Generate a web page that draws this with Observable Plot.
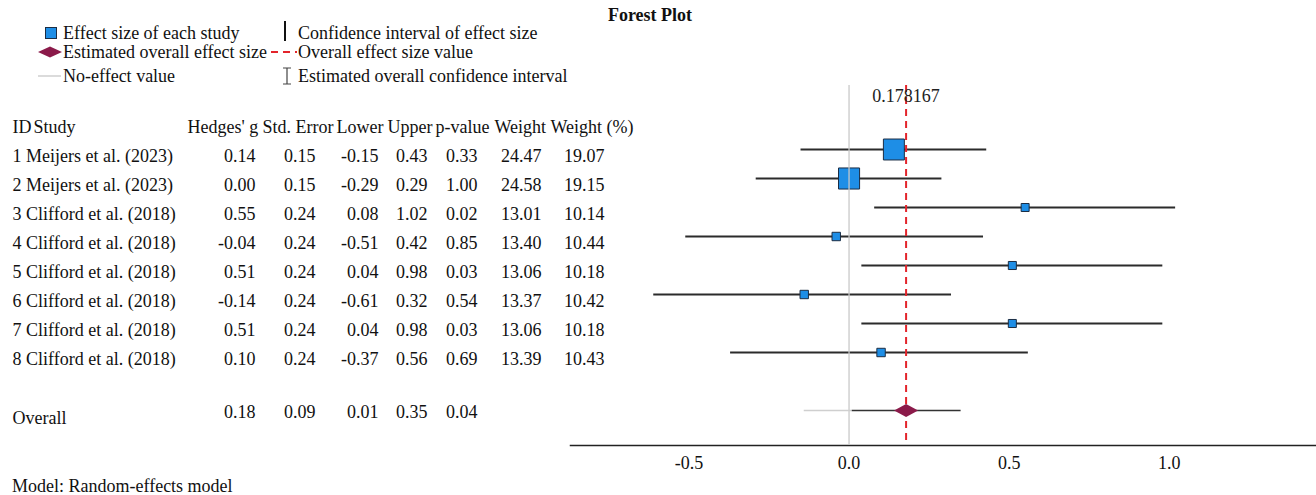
<!DOCTYPE html>
<html>
<head>
<meta charset="utf-8">
<script src="https://cdn.jsdelivr.net/npm/d3@7"></script>
<script src="https://cdn.jsdelivr.net/npm/@observablehq/plot@0.6"></script>
<style>
  body { margin: 0; background: #fff; }
  #fig { position: relative; width: 1316px; height: 495px; overflow: hidden;
         font-family: "Liberation Serif", "Times New Roman", serif; color: #111; }
  #fig > svg, #fig > .layer { position: absolute; left: 0; top: 0; }
  .title { position: absolute; left: 0; width: 1300px; top: 5px; text-align: center;
           font-weight: bold; font-size: 18px; }
  .caption { position: absolute; left: 12px; top: 476px; font-size: 18px; }
</style>
</head>
<body>
<div id="fig"></div>
<script>
// ---- Study-level results (random-effects meta-analysis, Hedges' g) ----
const ids = [1, 2, 3, 4, 5, 6, 7, 8];
const studies = [
  "Meijers et al. (2023)", "Meijers et al. (2023)",
  "Clifford et al. (2018)", "Clifford et al. (2018)",
  "Clifford et al. (2018)", "Clifford et al. (2018)",
  "Clifford et al. (2018)", "Clifford et al. (2018)"
];
const hedgesG  = [0.14, 0.00, 0.55, -0.04, 0.51, -0.14, 0.51, 0.10];
const stdError = [0.15, 0.15, 0.24, 0.24, 0.24, 0.24, 0.24, 0.24];
const lowerCI  = [-0.15, -0.29, 0.08, -0.51, 0.04, -0.61, 0.04, -0.37];
const upperCI  = [0.43, 0.29, 1.02, 0.42, 0.98, 0.32, 0.98, 0.56];
const pValues  = [0.33, 1.00, 0.02, 0.85, 0.03, 0.54, 0.03, 0.69];
const weights  = [24.47, 24.58, 13.01, 13.40, 13.06, 13.37, 13.06, 13.39];
const weightPct = [19.07, 19.15, 10.14, 10.44, 10.18, 10.42, 10.18, 10.43];

// ---- Pooled estimate ----
const overallEstimate = 0.178167;
const overallStdError = 0.09;
const overallLower = 0.01;
const overallUpper = 0.35;
const overallP = 0.04;
const overallLightSpan = [-0.14, 0.01];

const xTicks = [-0.5, 0.0, 0.5, 1.0];

// ---- Derived tables ----
const rows = ids.map((id, i) => ({
  key: String(id), id, study: studies[i], g: hedgesG[i], se: stdError[i],
  lower: lowerCI[i], upper: upperCI[i], p: pValues[i], w: weights[i], wp: weightPct[i]
}));
const overall = {
  key: "Overall", g: overallEstimate, se: overallStdError,
  lower: overallLower, upper: overallUpper, p: overallP
};
const rowOrder = ["header", ...rows.map(d => d.key), "gap", "Overall"];

// ---- Layout of the left-hand table (pixel columns) ----
const marginLeft = 570;
const labelX = 12;
const columns = [
  {header: "Hedges' g",  headerX: 187, valueX: 255, get: d => d.g},
  {header: "Std. Error", headerX: 262, valueX: 315, get: d => d.se},
  {header: "Lower",      headerX: 336, valueX: 378, get: d => d.lower},
  {header: "Upper",      headerX: 387, valueX: 427, get: d => d.upper},
  {header: "p-value",    headerX: 435, valueX: 477, get: d => d.p},
  {header: "Weight",     headerX: 494, valueX: 541, get: d => d.w},
  {header: "Weight (%)", headerX: 550, valueX: 604, get: d => d.wp}
];
const fmt2 = v => v.toFixed(2);
const fmt1 = v => v.toFixed(1);

// Flattened diamond for the pooled effect
const flatDiamond = {
  draw(context, size) {
    const w = Math.sqrt(size / Math.PI);
    const h = w * 0.55;
    context.moveTo(-w, 0);
    context.lineTo(0, -h);
    context.lineTo(w, 0);
    context.lineTo(0, h);
    context.closePath();
  }
};

const textStyle = {fontSize: 18, fill: "#111"};
const at = x => ({frameAnchor: "left", dx: x - marginLeft});

const tableMarks = [];
// header row
tableMarks.push(Plot.text([{key: "header", t: "ID"}],
  {y: "key", text: "t", ...at(labelX), dy: 7, textAnchor: "start", ...textStyle}));
tableMarks.push(Plot.text([{key: "header", t: "Study"}],
  {y: "key", text: "t", ...at(33), dy: 7, textAnchor: "start", ...textStyle}));
for (const c of columns) {
  tableMarks.push(Plot.text([{key: "header", t: c.header}],
    {y: "key", text: "t", ...at(c.headerX), dy: 7, textAnchor: "start", ...textStyle}));
  tableMarks.push(Plot.text(rows,
    {y: "key", text: d => fmt2(c.get(d)), ...at(c.valueX), dy: 7, textAnchor: "end", ...textStyle}));
}
// study labels
tableMarks.push(Plot.text(rows,
  {y: "key", text: d => `${d.id} ${d.study}`, ...at(labelX), dy: 7, textAnchor: "start", ...textStyle}));
// overall row
tableMarks.push(Plot.text([overall],
  {y: "key", text: () => "Overall", ...at(labelX), dy: 8, textAnchor: "start", ...textStyle}));
for (const c of columns.slice(0, 5)) {
  tableMarks.push(Plot.text([overall],
    {y: "key", text: d => fmt2(c.get(d)), ...at(c.valueX), dy: 2, textAnchor: "end", ...textStyle}));
}

const chart = Plot.plot({
  width: 1316,
  height: 495,
  marginLeft,
  marginRight: 0,
  marginTop: 85,
  marginBottom: 50,
  style: {fontFamily: "'Liberation Serif', 'Times New Roman', serif", fontSize: "18px", color: "#111", background: "transparent", overflow: "visible"},
  x: {domain: [-0.87, 1.46]},
  y: {type: "point", domain: rowOrder, range: [118, 412], padding: 0, axis: null},
  r: {type: "linear", domain: [13.0, 24.6], range: [4.5, 11.9]},
  marks: [
    // x axis: baseline + labels, no tick marks
    Plot.frame({anchor: "bottom", stroke: "#222", strokeWidth: 1.5}),
    Plot.axisX({ticks: xTicks, tickFormat: fmt1, tickSize: 0, tickPadding: 11, fontSize: 18, label: null}),

    // study confidence intervals and effect-size squares
    Plot.ruleY(rows, {y: "key", x1: "lower", x2: "upper", stroke: "#2b2b2b", strokeWidth: 2}),
    Plot.dot(rows, {x: "g", y: "key", r: "w", symbol: "square", fill: "#1e8ee6", stroke: "#1b2d44", strokeWidth: 1}),

    // no-effect line and pooled-effect line
    Plot.ruleX([0], {stroke: "#c8c8c8", strokeWidth: 1.5, strokeOpacity: 0.85}),
    Plot.ruleX([overallEstimate], {stroke: "#e3242b", strokeWidth: 2, strokeDasharray: "7,5"}),
    Plot.text([overallEstimate], {x: d => d, frameAnchor: "top", lineAnchor: "middle", dy: 11, text: d => String(d), fontSize: 18, fill: "#222"}),

    // pooled confidence interval
    Plot.ruleY([overall], {y: "key", x1: () => overallLightSpan[0], x2: () => overallLightSpan[1], stroke: "#cfcfcf", strokeWidth: 1.5}),
    Plot.ruleX([overallLightSpan[0]], {x: d => d, y: () => "Overall", insetTop: -4, insetBottom: -4, stroke: "#cfcfcf", strokeWidth: 1.5}),
    Plot.ruleY([overall], {y: "key", x1: "lower", x2: "upper", stroke: "#333", strokeWidth: 1.5}),
    Plot.ruleX([overall.lower, overall.upper], {x: d => d, y: () => "Overall", insetTop: -4, insetBottom: -4, stroke: "#333", strokeWidth: 1.5}),
    Plot.dot([overall], {x: "g", y: "key", r: 12, symbol: flatDiamond, fill: "#8b1a4a", stroke: null}),

    ...tableMarks
  ]
});

const fig = document.getElementById("fig");
fig.appendChild(chart);

// Title and model note
const title = document.createElement("div");
title.className = "title";
title.textContent = "Forest Plot";
fig.appendChild(title);
const caption = document.createElement("div");
caption.className = "caption";
caption.textContent = "Model: Random-effects model";
fig.appendChild(caption);

// Symbol key
const key = d3.create("svg")
  .attr("class", "layer")
  .attr("width", 620).attr("height", 95)
  .style("font-family", "'Liberation Serif', 'Times New Roman', serif")
  .style("font-size", "18px");
key.append("rect").attr("x", 45.5).attr("y", 27.5).attr("width", 11).attr("height", 11)
  .attr("fill", "#1e8ee6").attr("stroke", "#1b2d44");
key.append("path").attr("d", "M38,52L50,46.5L62,52L50,57.5Z").attr("fill", "#8b1a4a");
key.append("line").attr("x1", 38).attr("x2", 61).attr("y1", 76).attr("y2", 76).attr("stroke", "#cfcfcf").attr("stroke-width", 1.5);
key.append("line").attr("x1", 285).attr("x2", 285).attr("y1", 21).attr("y2", 41).attr("stroke", "#111").attr("stroke-width", 2);
key.append("line").attr("x1", 271).attr("x2", 297).attr("y1", 52).attr("y2", 52).attr("stroke", "#e3242b").attr("stroke-width", 2).attr("stroke-dasharray", "7,5");
key.append("path").attr("d", "M283,68H291M287,68V84M283,84H291").attr("stroke", "#444").attr("stroke-width", 1.2).attr("fill", "none");
const keyItems = [
  {x: 63, y: 33, t: "Effect size of each study"},
  {x: 63, y: 52, t: "Estimated overall effect size"},
  {x: 63, y: 76, t: "No-effect value"},
  {x: 298, y: 33, t: "Confidence interval of effect size"},
  {x: 298, y: 52, t: "Overall effect size value"},
  {x: 298, y: 76, t: "Estimated overall confidence interval"}
];
key.selectAll("text.k").data(keyItems).join("text")
  .attr("class", "k").attr("x", d => d.x).attr("y", d => d.y)
  .attr("dy", "0.32em").attr("fill", "#111").text(d => d.t);
fig.appendChild(key.node());
</script>
</body>
</html>
